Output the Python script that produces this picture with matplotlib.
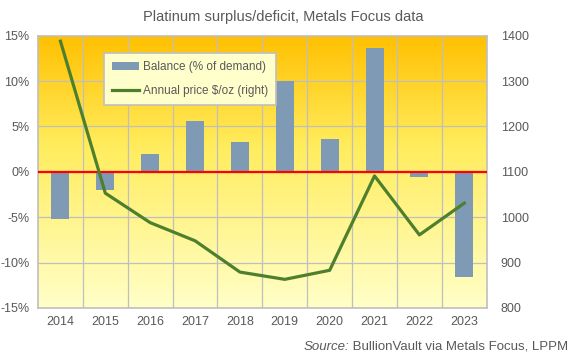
import numpy as np
import matplotlib
matplotlib.use('Agg')
import matplotlib.pyplot as plt
from matplotlib.colors import LinearSegmentedColormap

plt.rcParams['font.family'] = ['Liberation Sans', 'DejaVu Sans']

# data
years = ['2014', '2015', '2016', '2017', '2018', '2019', '2020', '2021', '2022', '2023']
balance_pct = [-5.2, -2.0, 2.0, 5.6, 3.3, 10.0, 3.6, 13.6, -0.6, -11.6]
price = [1388, 1053, 988, 948, 879, 863, 883, 1091, 961, 1031]

left_ticks = [-15, -10, -5, 0, 5, 10, 15]
right_ticks = [800, 900, 1000, 1100, 1200, 1300, 1400]

txt = '#595959'
grid_c = '#BFBFBF'

fig = plt.figure(figsize=(5.76, 3.61), dpi=100)
ax = fig.add_axes([0.066, 0.147, 0.779, 0.754])

# background gradient
cmap = LinearSegmentedColormap.from_list('bg', [(0, '#FFFFC8'), (0.6, '#FFEC5C'), (1, '#FFC000')])
grad = np.linspace(0, 1, 256).reshape(-1, 1)
ax.imshow(grad, cmap=cmap, aspect='auto', extent=[-0.5, 9.5, -15, 15],
          origin='lower', zorder=0)

x = np.arange(len(years))
ax.bar(x, balance_pct, width=0.4, color='#7F9AB5', zorder=2, label='Balance (% of demand)')
ax.axhline(0, color='#FF0000', lw=1.6, zorder=3)

ax.set_xlim(-0.5, 9.5)
ax.set_ylim(-15, 15)
ax.set_yticks(left_ticks)
ax.set_yticklabels([f'{t}%' for t in left_ticks])
ax.set_xticks(x)
ax.set_xticklabels(years)
for v in np.arange(0.5, 9.5, 1):
    ax.axvline(v, color=grid_c, lw=0.9, zorder=1)
for t in left_ticks[1:-1]:
    ax.axhline(t, color=grid_c, lw=0.9, zorder=1)
ax.tick_params(length=0, labelsize=9, colors=txt, pad=6)
for s in ax.spines.values():
    s.set_color(grid_c)
    s.set_linewidth(1.2)

ax2 = ax.twinx()
ax2.plot(x, price, color='#4E7F2E', lw=2.3, zorder=4, label='Annual price $/oz (right)')
ax2.set_ylim(800, 1400)
ax2.set_yticks(right_ticks)
ax2.tick_params(length=0, labelsize=9, colors=txt, pad=10)
for s in ax2.spines.values():
    s.set_visible(False)

h1, l1 = ax.get_legend_handles_labels()
h2, l2 = ax2.get_legend_handles_labels()
leg = ax2.legend(h1 + h2, l1 + l2, loc='upper left', bbox_to_anchor=(0.148, 0.935),
                 fontsize=8.5, frameon=True, fancybox=False, facecolor='#FFFFCC',
                 edgecolor='#BFBFBF', framealpha=1, labelcolor=txt,
                 handlelength=2.3, handletextpad=0.3, borderpad=0.65,
                 labelspacing=1.0, borderaxespad=0)
leg.get_frame().set_linewidth(1.2)

fig.text(0.492, 0.952, 'Platinum surplus/deficit, Metals Focus data', ha='center',
         va='center', fontsize=10.5, color=txt)

# source line, italic "Source:" in front
src = fig.text(0.987, 0.04, ' BullionVault via Metals Focus, LPPM', ha='right',
               va='center', fontsize=9.5, color=txt)
fig.canvas.draw()
bb = src.get_window_extent().transformed(fig.transFigure.inverted())
fig.text(bb.x0, 0.04, 'Source:', ha='right', va='center', fontsize=9.5,
         color=txt, style='italic')

fig.savefig('out.png', dpi=100)
